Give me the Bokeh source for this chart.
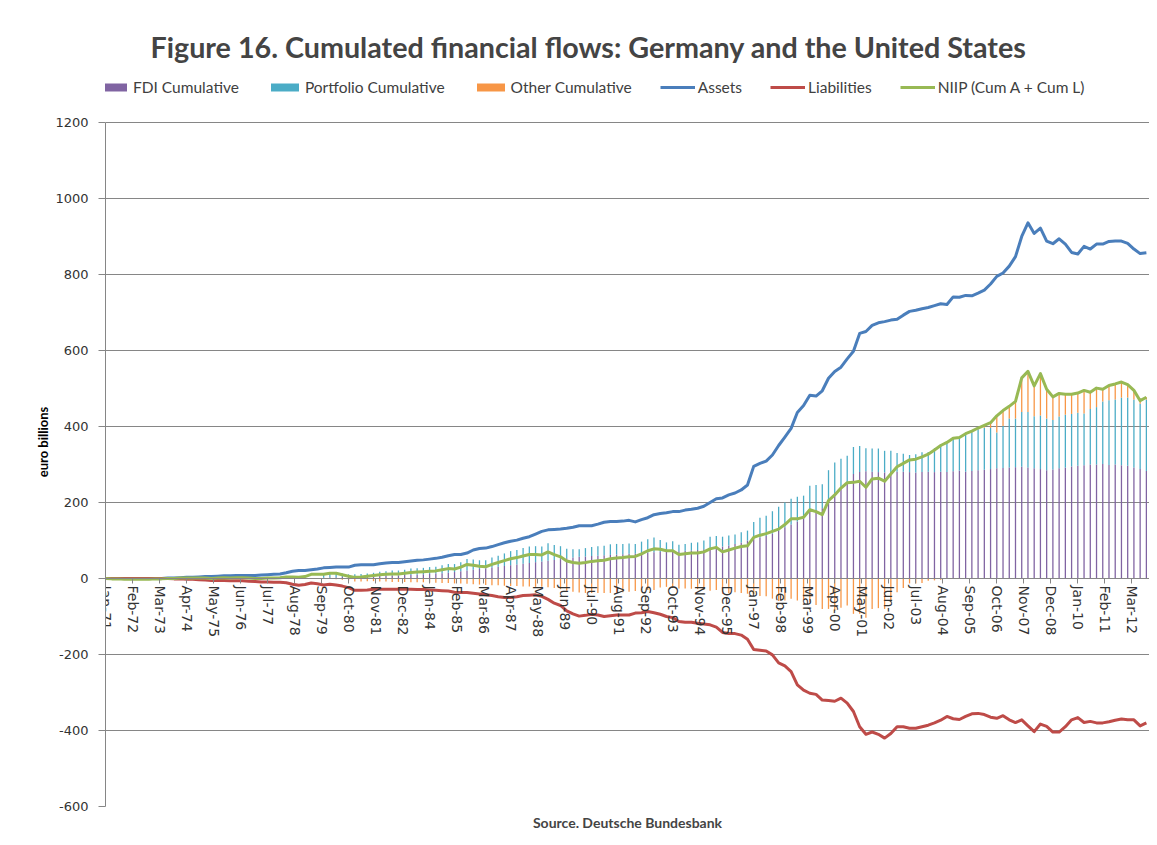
import numpy as np
from bokeh.plotting import figure
from bokeh.models import Range1d, FixedTicker, Legend, LegendItem, Title
from bokeh.embed import file_html
from bokeh.resources import INLINE

# ---------------- data (quarterly, Jan-71 ... Oct-12, euro billions) ----------------
first_year = 1971
months_per_point = 3

tick_labels = ["Jan-71", "Feb-72", "Mar-73", "Apr-74", "May-75", "Jun-76", "Jul-77", "Aug-78",
               "Sep-79", "Oct-80", "Nov-81", "Dec-82", "Jan-84", "Feb-85", "Mar-86", "Apr-87",
               "May-88", "Jun-89", "Jul-90", "Aug-91", "Sep-92", "Oct-93", "Nov-94", "Dec-95",
               "Jan-97", "Feb-98", "Mar-99", "Apr-00", "May-01", "Jun-02", "Jul-03", "Aug-04",
               "Sep-05", "Oct-06", "Nov-07", "Dec-08", "Jan-10", "Feb-11", "Mar-12"]

y_ticks = [-600, -400, -200, 0, 200, 400, 600, 800, 1000, 1200]

assets = [
    0, 0, 0, 0,   0, 0, 0, 0,   0, 0, 1, 1,   2, 3, 3, 4,   5, 5, 6, 7,
    7, 8, 8, 8,   8, 9, 10, 11,   12, 15, 19, 21,   21, 23, 25, 28,
    29, 30, 30, 30,   35, 36, 36, 36,   39, 41, 42, 42,   44, 46, 48, 49,
    51, 53, 56, 60,   63, 63, 67, 75,   79, 80, 84, 89,   94, 98, 101, 106,
    110, 117, 124, 128,   129, 130, 132, 135,   139, 139, 139, 143,
    148, 150, 150, 151,   153, 149, 155, 160,   168, 171, 173, 176,
    176, 180, 182, 185,   190, 200, 210, 212,   220, 225, 233, 246,
    295, 303, 309, 325,   350, 372, 395, 437,   455, 482, 480, 494,
    527, 545, 556, 578,   598, 645, 650, 666,   673, 676, 680, 682,
    693, 703, 706, 710,   713, 718, 723, 721,   741, 740, 745, 744,
    751, 759, 775, 795,   804, 822, 847, 900,   936, 908, 922, 888,
    881, 894, 880, 858,   854, 874, 867, 880,   880, 887, 888, 888,
    882, 867, 855, 857]

liabilities = [
    0, 0, 0, 0,   0, 0, 0, 0,   0, 0, 0, -1,   -1, -2, -2, -3,   -4, -5, -5, -5,
    -6, -6, -6, -7,   -8, -9, -9, -10,   -10, -11, -15, -18,   -16, -12, -14, -17,
    -15, -17, -20, -24,   -31, -31, -30, -28,   -28, -28, -28, -28,   -28, -28, -29, -29,
    -30, -31, -32, -33,   -36, -37, -37, -39,   -41, -43, -45, -48,   -50, -50, -48, -45,
    -44, -43, -47, -55,   -65, -71, -85, -93,   -99, -97, -94, -96,
    -100, -98, -96, -96,   -96, -91, -90, -87,   -90, -94, -100, -103,
    -113, -115, -115, -118,   -120, -122, -128, -142,   -145, -145, -149, -160,
    -187, -189, -191, -201,   -222, -230, -245, -280,   -294, -302, -305, -320,
    -321, -323, -315, -328,   -350, -390, -410, -404,   -410, -420, -408, -390,
    -390, -394, -394, -390,   -386, -380, -373, -363,   -369, -371, -363, -356,
    -355, -358, -365, -368,   -361, -372, -379, -372,   -388, -403, -383, -389,
    -404, -404, -390, -372,   -366, -379, -376, -380,   -380, -377, -373, -370,
    -372, -372, -388, -380]

niip = [
    0, -1, -1, -2,   -2, -2, -2, -2,   -1, -1, 0, 0,   1, 1, 1, 1,   1, 0, 1, 2,
    1, 2, 2, 1,   0, 0, 1, 1,   2, 4, 4, 3,   5, 11, 11, 11,
    14, 14, 10, 6,   3, 4, 6, 8,   10, 11, 12, 12,   14, 16, 17, 18,
    19, 20, 23, 26,   25, 30, 37, 35,   32, 31, 37, 42,   47, 52, 55, 59,
    63, 63, 62, 70,   63, 57, 46, 42,   40, 42, 45, 47,
    48, 52, 54, 55,   57, 58, 65, 73,   78, 77, 73, 73,
    63, 65, 67, 67,   70, 78, 82, 70,   75, 80, 84, 86,
    108, 114, 118, 124,   130, 142, 157, 157,   161, 181, 176, 168,
    205, 220, 238, 252,   253, 256, 240, 262,   264, 256, 275, 294,
    303, 312, 314, 320,   327, 338, 350, 358,   369, 371, 381, 388,
    396, 403, 410, 428,   442, 453, 466, 528,   545, 507, 539, 498,
    478, 487, 485, 485,   488, 495, 490, 501,   498, 508, 512, 517,
    510, 495, 468, 477]

fdi_cum = [
    0, 0, 0, 0,   0, 0, 0, 0,   0, 0, 0, 0,   0, 0, 0, 0,   0, 0, 0, 0,
    0, 0, 0, 0,   0, 0, 0, 0,   0, 0, 0, 0,   0, 0, 0, 2,
    3, 3, 4, 4,   5, 5, 6, 6,   7, 7, 8, 8,   9, 9, 10, 11,
    12, 13, 14, 15,   17, 19, 21, 23,   25, 27, 29, 31,   33, 35, 37, 39,
    41, 43, 45, 47,   49, 51, 53, 55,   57, 58, 59, 60,
    61, 62, 63, 64,   65, 66, 67, 68,   69, 70, 70, 71,
    72, 73, 74, 75,   77, 79, 81, 84,   87, 91, 95, 100,
    105, 108, 112, 118,   125, 135, 142, 150,   158, 175, 180, 185,
    205, 225, 240, 250,   275, 280, 282, 281,   280, 279, 280, 281,
    281, 280, 279, 280,   281, 280, 281, 280,   282, 284, 281, 283,
    285, 286, 288, 290,   291, 292, 293, 294,   292, 290, 288, 285,
    287, 290, 292, 295,   297, 298, 300, 300,   301, 299, 300, 298,
    297, 292, 288, 283]

portfolio_cum = [
    0, 0, 0, 0,   0, 0, 0, 0,   0, 0, 0, 0,   0, 0, 0, 0,   0, 0, 0, 0,
    0, 0, 0, 0,   0, 0, 0, 0,   0, 0, 0, 0,   0, 0, 0, 10,
    12, 13, 9, 7,   6, 7, 7, 9,   11, 12, 13, 13,   14, 17, 17, 17,
    18, 18, 21, 23,   21, 24, 30, 27,   23, 21, 26, 29,   33, 37, 38, 41,
    43, 42, 39, 46,   39, 34, 25, 22,   20, 22, 24, 25,
    25, 28, 28, 27,   27, 25, 30, 35,   39, 31, 25, 27,
    17, 18, 20, 20,   23, 31, 31, 26,   26, 25, 27, 26,
    44, 52, 53, 59,   64, 65, 68, 65,   60, 69, 66, 63,
    80, 80, 75, 73,   71, 69, 61, 61,   62, 57, 56, 49,
    47, 45, 48, 52,   52, 63, 72, 78,   86, 85, 98, 102,
    108, 111, 108, 94,   110, 129, 128, 144,   146, 137, 141, 136,
    130, 136, 139, 138,   139, 136, 146, 151,   165, 170, 171, 178,
    179, 179, 172, 188]

other_cum = [
    0, 0, 0, 0,   0, 0, 0, 0,   0, 0, 0, 0,   0, 0, 0, 0,   0, 0, 0, 0,
    0, 0, 0, 0,   0, 0, 0, 0,   0, 0, 0, 0,   0, 0, 0, -1,
    -1, -2, -3, -5,   -8, -8, -7, -7,   -8, -8, -9, -9,   -9, -10, -10, -10,
    -11, -11, -12, -12,   -13, -13, -14, -15,   -16, -17, -18, -18,   -19, -20, -20, -21,
    -21, -22, -22, -23,   -25, -28, -32, -35,   -37, -38, -38, -38,
    -38, -38, -37, -36,   -35, -33, -32, -30,   -30, -24, -22, -25,
    -26, -26, -27, -28,   -30, -32, -30, -40,   -38, -36, -38, -40,
    -41, -46, -47, -53,   -59, -58, -53, -58,   -57, -63, -70, -80,
    -80, -85, -77, -71,   -93, -93, -103, -80,   -78, -80, -61, -36,
    -25, -13, -13, -12,   -6, -5, -3, 0,   1, 2, 2, 3,
    3, 6, 14, 44,   41, 32, 45, 90,   107, 80, 110, 77,
    61, 61, 54, 52,   52, 61, 44, 50,   32, 39, 41, 41,
    34, 24, 8, 6]

# ---------------- positions ----------------
month_names = ["Jan", "Feb", "Mar", "Apr", "May", "Jun", "Jul", "Aug", "Sep", "Oct", "Nov", "Dec"]


def month_index(lbl):
    yy = int(lbl[-2:])
    year = 1900 + yy if yy >= 50 else 2000 + yy
    return (year - first_year) * 12 + month_names.index(lbl[:3])


tick_pos = [month_index(t) for t in tick_labels]
n = len(assets)
x = np.arange(n) * months_per_point

# stacked bars (positive values stacked upwards, negative downwards)
pos_base = np.zeros(n)
neg_base = np.zeros(n)
stacks = []
for vals in (fdi_cum, portfolio_cum, other_cum):
    v = np.array(vals, dtype=float)
    bottom = np.where(v >= 0, pos_base, neg_base)
    top = bottom + v
    stacks.append((bottom, top))
    pos_base = pos_base + np.clip(v, 0, None)
    neg_base = neg_base + np.clip(v, None, 0)

# ---------------- figure ----------------
FRAME_H = 729
p = figure(width=1149, height=837, output_backend="svg", toolbar_location=None,
           x_range=Range1d(0, 502.5), y_range=Range1d(-600, 1318.4),
           min_border_left=105, min_border_right=0, min_border_top=77, min_border_bottom=31)
p.outline_line_color = None
p.background_fill_color = "white"
p.border_fill_color = "white"

bar_colors = ["#8064A2", "#4BACC6", "#F79646"]
bar_renderers = []
for (bottom, top), col in zip(stacks, bar_colors):
    r = p.vbar(x=x, bottom=bottom, top=top, width=0.62, fill_color=col, line_color=None)
    bar_renderers.append(r)

r_a = p.line(x, assets, line_width=3, color="#4A7EBB", line_join="round")
r_l = p.line(x, liabilities, line_width=3, color="#BE4B48", line_join="round")
r_n = p.line(x, niip, line_width=3, color="#98B954", line_join="round")

# axes
yt = FixedTicker(ticks=y_ticks)
p.yaxis.ticker = yt
p.yaxis.bounds = (min(y_ticks), max(y_ticks))
p.yaxis.major_label_overrides = {v: str(v) for v in y_ticks}
p.ygrid.ticker = yt
p.ygrid.grid_line_color = "#868686"
p.xgrid.visible = False
p.yaxis.axis_line_color = "#868686"
p.yaxis.major_tick_line_color = "#868686"
p.yaxis.major_tick_out = 7
p.yaxis.major_tick_in = 0
p.yaxis.minor_tick_line_color = None
p.yaxis.major_label_standoff = 10
p.yaxis.major_label_text_font = "DejaVu Sans"
p.yaxis.major_label_text_font_size = "13px"
p.yaxis.major_label_text_color = "#333333"
p.yaxis.axis_label = "euro billions"
p.yaxis.axis_label_text_font = "Lato"
p.yaxis.axis_label_text_font_style = "bold"
p.yaxis.axis_label_text_font_size = "13px"
p.yaxis.axis_label_text_color = "black"
p.yaxis.axis_label_standoff = 1

p.xaxis.fixed_location = 0
p.xaxis.ticker = FixedTicker(ticks=tick_pos)
p.xaxis.major_label_overrides = {pos: lbl for pos, lbl in zip(tick_pos, tick_labels)}
p.xaxis.major_label_orientation = "vertical"
p.xaxis.major_label_standoff = 2
p.xaxis.major_label_text_font = "DejaVu Sans"
p.xaxis.major_label_text_font_size = "14px"
p.xaxis.major_label_text_color = "#333333"
p.xaxis.axis_line_color = "#868686"
p.xaxis.major_tick_line_color = "#868686"
p.xaxis.major_tick_out = 5
p.xaxis.major_tick_in = 0
p.xaxis.minor_tick_line_color = None

# titles
p.title.text = "Figure 16. Cumulated financial flows: Germany and the United States"
p.title.align = "left"
p.title.offset = 45
p.title.text_font = "Lato"
p.title.text_font_style = "bold"
p.title.text_font_size = "28.7px"
p.title.standoff = 27

src = Title(text="Source. Deutsche Bundesbank", align="center", text_font="Lato",
            text_font_style="bold", text_font_size="14px")
p.add_layout(src, "below")

legend = Legend(items=[
    LegendItem(label="FDI Cumulative", renderers=[bar_renderers[0]]),
    LegendItem(label="Portfolio Cumulative", renderers=[bar_renderers[1]]),
    LegendItem(label="Other Cumulative", renderers=[bar_renderers[2]]),
    LegendItem(label="Assets", renderers=[r_a]),
    LegendItem(label="Liabilities", renderers=[r_l]),
    LegendItem(label="NIIP (Cum A + Cum L)", renderers=[r_n]),
], orientation="horizontal", location=(-10, FRAME_H - 20), glyph_width=35, glyph_height=10,
    label_standoff=3, spacing=28, padding=0, margin=0, border_line_color=None,
    background_fill_alpha=0, label_text_font="Lato", label_text_font_size="15.5px",
    label_text_color="#404040", label_height=20)
p.add_layout(legend)

open("out.html", "w").write(file_html(p, INLINE))
